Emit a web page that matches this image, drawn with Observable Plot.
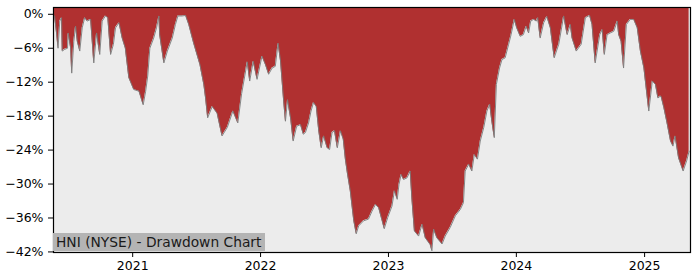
<!DOCTYPE html>
<html>
<head>
<meta charset="utf-8">
<script src="https://cdn.jsdelivr.net/npm/d3@7"></script>
<script src="https://cdn.jsdelivr.net/npm/@observablehq/plot@0.6"></script>
<style>
  html, body { margin: 0; padding: 0; background: #ffffff; }
  #wrap { position: relative; width: 700px; height: 280px; font-family: "DejaVu Sans", sans-serif; }
  #label {
    position: absolute; left: 53px; top: 233px; width: 212px; height: 18px;
    background: #b4b4b4; color: #1a1a1a; font-size: 13.8px; line-height: 18px;
    padding-left: 3px; box-sizing: border-box; white-space: nowrap;
  }
</style>
</head>
<body>
<div id="wrap"><div id="chart"></div><div id="label"></div></div>
<script>
const title = "HNI (NYSE) - Drawdown Chart";

const dates = [
  "2020-05-23","2020-05-29","2020-06-02","2020-06-07","2020-06-12","2020-06-14","2020-06-21","2020-06-29",
  "2020-07-01","2020-07-08","2020-07-11","2020-07-17","2020-07-22","2020-07-27","2020-08-03","2020-08-10",
  "2020-08-17","2020-08-24","2020-09-03","2020-09-12","2020-09-20","2020-09-29","2020-10-06","2020-10-15",
  "2020-10-22","2020-10-30","2020-11-07","2020-11-13","2020-11-23","2020-12-02","2020-12-11","2020-12-21",
  "2021-01-04","2021-01-19","2021-01-31","2021-02-07","2021-02-13","2021-02-19","2021-03-02","2021-03-10",
  "2021-03-17","2021-03-19","2021-03-31","2021-04-10","2021-04-24","2021-05-03","2021-05-10","2021-05-22",
  "2021-06-01","2021-06-10","2021-06-24","2021-07-12","2021-07-23","2021-07-28","2021-08-03","2021-08-16",
  "2021-08-30","2021-09-13","2021-09-28","2021-10-14","2021-10-28","2021-11-08","2021-11-24","2021-12-01",
  "2021-12-11","2021-12-22","2022-01-05","2022-01-15","2022-01-24","2022-02-03","2022-02-12","2022-02-20",
  "2022-02-27","2022-03-08","2022-03-13","2022-03-19","2022-03-28","2022-04-04","2022-04-14","2022-04-25",
  "2022-05-03","2022-05-09","2022-05-18","2022-05-25","2022-06-01","2022-06-09","2022-06-16","2022-06-23",
  "2022-06-30","2022-07-10","2022-07-17","2022-07-24","2022-07-31","2022-08-08","2022-08-17","2022-08-25",
  "2022-08-31","2022-09-06","2022-09-14","2022-09-24","2022-10-01","2022-10-08","2022-10-22","2022-11-05",
  "2022-11-15","2022-11-25","2022-12-04","2022-12-14","2022-12-20","2022-12-30","2023-01-11","2023-01-18",
  "2023-01-26","2023-01-31","2023-02-06","2023-02-13","2023-02-23","2023-03-04","2023-03-09","2023-03-16",
  "2023-03-28","2023-04-07","2023-04-16","2023-04-30","2023-05-05","2023-05-10","2023-05-19","2023-06-03",
  "2023-06-12","2023-06-26","2023-07-11","2023-07-25","2023-08-03","2023-08-08","2023-08-18","2023-08-27",
  "2023-09-03","2023-09-12","2023-09-20","2023-09-30","2023-10-09","2023-10-17","2023-10-23","2023-10-30",
  "2023-11-05","2023-11-14","2023-11-21","2023-11-30","2023-12-10","2023-12-17","2023-12-26","2024-01-02",
  "2024-01-12","2024-01-21","2024-01-29","2024-02-05","2024-02-11","2024-02-19","2024-02-27","2024-03-02",
  "2024-03-09","2024-03-19","2024-03-28","2024-04-07","2024-04-18","2024-05-01","2024-05-15","2024-05-25",
  "2024-06-03","2024-06-08","2024-06-20","2024-07-04","2024-07-16","2024-07-28","2024-08-04","2024-08-13",
  "2024-08-26","2024-09-02","2024-09-08","2024-09-16","2024-09-25","2024-10-05","2024-10-15","2024-10-19",
  "2024-10-26","2024-11-02","2024-11-10","2024-11-21","2024-12-01","2024-12-11","2024-12-20","2024-12-30",
  "2025-01-13","2025-01-23","2025-02-01","2025-02-08","2025-02-14","2025-02-17","2025-02-25","2025-03-06",
  "2025-03-16","2025-03-23","2025-03-29","2025-04-08","2025-04-21","2025-05-01","2025-05-08"
];

const drawdown = [
  -0.3,-3.5,-6.0,-1.2,-0.6,-6.5,-6.2,-6.0,
  -3.3,-6.0,-10.4,-4.8,-2.1,-4.8,-6.5,-2.4,
  -0.6,-1.2,-0.9,-8.6,-3.3,-7.1,-1.2,-0.3,
  -0.6,-7.1,-5.3,-2.4,-1.5,-4.2,-6.0,-11.2,
  -13.3,-13.6,-16.0,-13.6,-10.9,-6.0,-4.2,-2.4,
  -0.3,-3.6,-8.6,-6.5,-4.2,-1.8,-0.3,-0.3,
  -0.2,-1.8,-5.1,-8.9,-12.4,-14.8,-18.3,-16.3,
  -17.5,-21.5,-20.0,-17.1,-19.2,-14.0,-8.4,-11.8,
  -8.3,-11.5,-7.4,-8.9,-10.6,-9.5,-9.2,-5.1,
  -8.3,-15.4,-18.9,-15.1,-18.5,-22.4,-19.8,-19.5,
  -21.2,-20.9,-19.2,-17.1,-15.6,-16.3,-20.6,-23.6,
  -21.5,-23.6,-23.9,-20.9,-20.6,-23.6,-20.6,-22.1,
  -25.6,-28.2,-31.2,-36.5,-38.8,-37.4,-36.5,-36.2,
  -34.8,-33.6,-34.2,-36.5,-37.9,-35.9,-33.9,-31.2,
  -32.7,-30.1,-28.3,-29.2,-28.9,-27.7,-32.7,-38.3,
  -39.2,-37.1,-39.5,-40.7,-41.8,-38.0,-39.5,-40.6,
  -39.2,-37.7,-35.6,-34.5,-33.3,-27.7,-26.5,-27.7,
  -24.8,-25.6,-22.4,-20.0,-17.1,-15.9,-18.9,-21.8,
  -12.4,-9.5,-8.0,-7.7,-5.3,-3.6,-0.9,-2.4,
  -3.9,-3.6,-2.1,-3.3,-1.2,-0.9,-1.2,-0.6,
  -4.2,-1.5,-0.4,-2.4,-7.7,-5.3,-0.3,-3.6,
  -1.8,-4.2,-6.5,-5.3,-0.6,-0.2,-1.8,-8.6,
  -3.6,-2.7,-7.1,-3.6,-3.3,-3.0,-1.2,-3.6,
  -4.8,-9.5,-1.8,-0.9,-0.9,-2.4,-6.5,-9.5,
  -17.1,-11.8,-12.4,-14.8,-14.5,-14.5,-16.5,-19.2,
  -22.4,-23.3,-21.5,-25.4,-27.7,-25.9,-24.2
];

const yTicks = [0, -6, -12, -18, -24, -30, -36, -42];
const xTicks = ["2021-01-01", "2022-01-01", "2023-01-01", "2024-01-01", "2025-01-01"];
const xDomain = ["2020-05-20", "2025-05-12"];
const yDomain = [-42.1, 1.2];

const data = dates.map((d, i) => ({date: new Date(d), dd: drawdown[i]}));
const yTop = yDomain[1];

const chart = Plot.plot({
  width: 700,
  height: 280,
  marginLeft: 53,
  marginRight: 10,
  marginTop: 7,
  marginBottom: 28,
  style: {fontFamily: "DejaVu Sans, sans-serif", fontSize: "12.5px", color: "#000", background: "#ffffff"},
  x: {type: "utc", domain: xDomain.map(d => new Date(d)), ticks: xTicks.map(d => new Date(d)),
      tickFormat: d => d3.utcFormat("%Y")(d), tickSize: 5, tickPadding: 4, label: null},
  y: {domain: yDomain, ticks: yTicks, tickFormat: d => d === 0 ? "0%" : "\u2212" + Math.abs(d) + "%",
      tickSize: 5, tickPadding: 5, label: null},
  marks: [
    Plot.frame({fill: "#ececec"}),
    Plot.areaY(data, {x: "date", y1: "dd", y2: () => yTop, fill: "#b03030", clip: true}),
    Plot.lineY(data, {x: "date", y: "dd", stroke: "#7a7a7a", strokeWidth: 0.9, clip: true}),
    Plot.frame({stroke: "#000", strokeWidth: 1.2})
  ]
});
document.getElementById("chart").appendChild(chart);
document.getElementById("label").textContent = title;
</script>
</body>
</html>
